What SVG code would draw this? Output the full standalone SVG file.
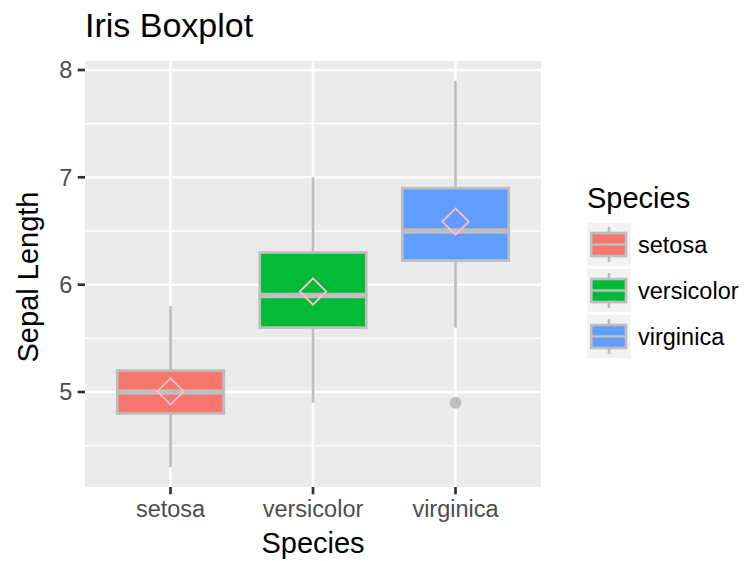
<svg xmlns="http://www.w3.org/2000/svg" width="744" height="561" viewBox="0 0 744 561">
<style>
text{font-family:"Liberation Sans",Arial,sans-serif}
.tick{font-size:23.5px;fill:#4D4D4D}
.ttl{font-size:29px;fill:#000}
.gmaj{stroke:#FFFFFF;stroke-width:2.6;fill:none}
.gmin{stroke:#FFFFFF;stroke-width:1.3;fill:none}
.tk{stroke:#333333;stroke-width:2.7}
.wh{stroke:#BEBEBE;stroke-width:2.7;fill:none}
.box{stroke:#BEBEBE;stroke-width:2.7}
.med{stroke:#BEBEBE;stroke-width:5.5}
.mean{stroke:#FFC0CB;stroke-width:1.8;fill:none}
.key{fill:#F2F2F2}
.lab{font-size:23.5px;fill:#000}
</style>
<rect x="0" y="0" width="744" height="561" fill="#FFFFFF"/>
<g id="panel">
<rect x="85" y="61" width="456" height="426" fill="#EBEBEB"/>
<g id="grid">
<line class="gmin" x1="85" x2="541" y1="123.7" y2="123.7"/>
<line class="gmin" x1="85" x2="541" y1="231" y2="231"/>
<line class="gmin" x1="85" x2="541" y1="338.3" y2="338.3"/>
<line class="gmin" x1="85" x2="541" y1="445.7" y2="445.7"/>
<line class="gmaj" x1="85" x2="541" y1="70" y2="70"/>
<line class="gmaj" x1="85" x2="541" y1="177.3" y2="177.3"/>
<line class="gmaj" x1="85" x2="541" y1="284.7" y2="284.7"/>
<line class="gmaj" x1="85" x2="541" y1="392" y2="392"/>
<line class="gmaj" x1="170.5" x2="170.5" y1="61" y2="487"/>
<line class="gmaj" x1="313" x2="313" y1="61" y2="487"/>
<line class="gmaj" x1="455.5" x2="455.5" y1="61" y2="487"/>
</g>
</g>
<g id="connectors">
<line class="wh" x1="170.5" x2="170.5" y1="306.1" y2="370.5"/>
<line class="wh" x1="170.5" x2="170.5" y1="413.5" y2="467.1"/>
<line class="wh" x1="313" x2="313" y1="177.3" y2="252.5"/>
<line class="wh" x1="313" x2="313" y1="327.6" y2="402.7"/>
<line class="wh" x1="455.5" x2="455.5" y1="80.7" y2="188.1"/>
<line class="wh" x1="455.5" x2="455.5" y1="260.5" y2="327.6"/>
</g>
<g id="setosa">
<rect class="box" x="117.25" y="370.5" width="106.5" height="43" fill="#F8766D"/>
<line class="med" x1="117.25" x2="223.75" y1="392" y2="392"/>
<path class="mean" d="M170.5,378.2 L183.7,391.4 L170.5,404.6 L157.3,391.4 Z"/>
</g>
<g id="versicolor">
<rect class="box" x="259.75" y="252.5" width="106.5" height="75.1" fill="#00BA38"/>
<line class="med" x1="259.75" x2="366.25" y1="295.4" y2="295.4"/>
<path class="mean" d="M313,278.3 L326.2,291.5 L313,304.7 L299.8,291.5 Z"/>
</g>
<g id="virginica">
<rect class="box" x="402.25" y="188.1" width="106.5" height="72.4" fill="#619CFF"/>
<line class="med" x1="402.25" x2="508.75" y1="231" y2="231"/>
<circle cx="455.5" cy="402.7" r="6" fill="#BEBEBE"/>
<path class="mean" d="M455.5,208.4 L468.7,221.6 L455.5,234.8 L442.3,221.6 Z"/>
</g>
<g id="axes">
<line class="tk" x1="77.7" x2="85" y1="70" y2="70"/>
<line class="tk" x1="77.7" x2="85" y1="177.3" y2="177.3"/>
<line class="tk" x1="77.7" x2="85" y1="284.7" y2="284.7"/>
<line class="tk" x1="77.7" x2="85" y1="392" y2="392"/>
<line class="tk" x1="170.5" x2="170.5" y1="487" y2="494.3"/>
<line class="tk" x1="313" x2="313" y1="487" y2="494.3"/>
<line class="tk" x1="455.5" x2="455.5" y1="487" y2="494.3"/>
<text class="tick" x="72.3" y="78.4" text-anchor="end">8</text>
<text class="tick" x="72.3" y="185.7" text-anchor="end">7</text>
<text class="tick" x="72.3" y="293.1" text-anchor="end">6</text>
<text class="tick" x="72.3" y="400.4" text-anchor="end">5</text>
<text class="tick" x="170.5" y="517" text-anchor="middle">setosa</text>
<text class="tick" x="313" y="517" text-anchor="middle">versicolor</text>
<text class="tick" x="455.5" y="517" text-anchor="middle">virginica</text>
<text class="ttl" x="313" y="553" text-anchor="middle">Species</text>
<text class="ttl" transform="translate(37.5,277) rotate(-90)" text-anchor="middle">Sepal Length</text>
<text x="85" y="37" style="font-size:34px;fill:#000">Iris Boxplot</text>
</g>
<g id="legend">
<text class="ttl" x="587" y="208.3">Species</text>
<g id="key-setosa">
<rect class="key" x="587.3" y="222.7" width="43.4" height="43.4"/>
<line class="wh" x1="609" x2="609" y1="227" y2="233"/>
<line class="wh" x1="609" x2="609" y1="256" y2="262"/>
<rect class="box" x="591.3" y="233" width="34.7" height="23" fill="#F8766D"/>
<line class="box" x1="591.3" x2="626" y1="244.5" y2="244.5"/>
<text class="lab" x="638" y="252.8">setosa</text>
</g>
<g id="key-versicolor">
<rect class="key" x="587.3" y="268.7" width="43.4" height="43.4"/>
<line class="wh" x1="609" x2="609" y1="273" y2="279"/>
<line class="wh" x1="609" x2="609" y1="302" y2="308"/>
<rect class="box" x="591.3" y="279" width="34.7" height="23" fill="#00BA38"/>
<line class="box" x1="591.3" x2="626" y1="290.5" y2="290.5"/>
<text class="lab" x="638" y="298.8">versicolor</text>
</g>
<g id="key-virginica">
<rect class="key" x="587.3" y="314.7" width="43.4" height="43.4"/>
<line class="wh" x1="609" x2="609" y1="319" y2="325"/>
<line class="wh" x1="609" x2="609" y1="348" y2="354"/>
<rect class="box" x="591.3" y="325" width="34.7" height="23" fill="#619CFF"/>
<line class="box" x1="591.3" x2="626" y1="336.5" y2="336.5"/>
<text class="lab" x="638" y="344.8">virginica</text>
</g>
</g>
</svg>
